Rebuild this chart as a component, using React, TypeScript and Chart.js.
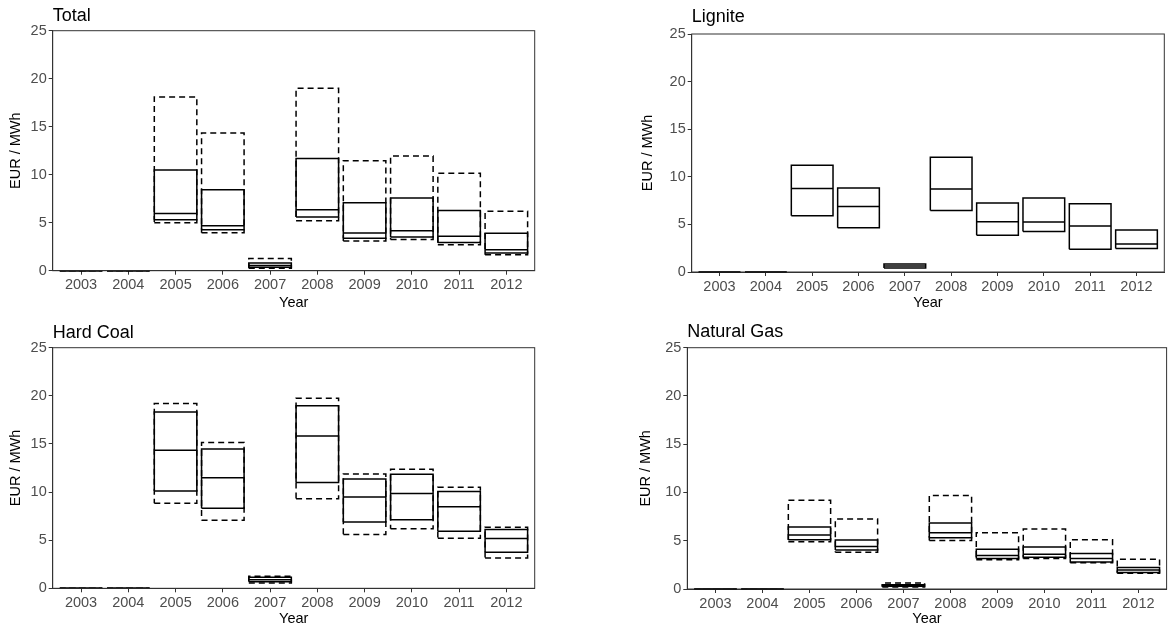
import React, { useEffect, useRef } from "react";
import { Chart, registerables } from "chart.js";

Chart.register(...registerables);

// ---------- data ----------
const years = [2003, 2004, 2005, 2006, 2007, 2008, 2009, 2010, 2011, 2012];
const yTicks = [0, 5, 10, 15, 20, 25];

const totalMin = [0, 0, 5.0, 3.96, 0.25, 5.2, 3.09, 3.26, 2.7, 1.67];
const totalLow = [0, 0, 5.3, 4.27, 0.35, 5.6, 3.37, 3.5, 2.95, 1.84];
const totalMed = [0, 0, 5.95, 4.69, 0.55, 6.35, 3.92, 4.17, 3.58, 2.19];
const totalHigh = [0, 0, 10.5, 8.44, 0.8, 11.7, 7.08, 7.57, 6.28, 3.89];
const totalMax = [0, 0, 18.1, 14.34, 1.28, 19.0, 11.46, 11.94, 10.14, 6.18];

const ligniteLow = [0, 0, 5.91, 4.64, 0.42, 6.47, 3.87, 4.25, 2.39, 2.46];
const ligniteMed = [0, 0, 8.76, 6.89, 0.63, 8.72, 5.27, 5.24, 4.82, 2.95];
const ligniteHigh = [0, 0, 11.22, 8.83, 0.84, 12.06, 7.24, 7.77, 7.17, 4.4];

const coalMin = [0, 0, 8.85, 7.08, 0.56, 9.3, 5.59, 6.18, 5.21, 3.16];
const coalLow = [0, 0, 10.1, 8.33, 0.69, 11.0, 6.88, 7.12, 5.94, 3.75];
const coalMed = [0, 0, 14.34, 11.49, 0.9, 15.83, 9.48, 9.86, 8.47, 5.17];
const coalHigh = [0, 0, 18.33, 14.48, 1.15, 18.96, 11.35, 11.84, 10.07, 6.11];
const coalMax = [0, 0, 19.2, 15.14, 1.25, 19.76, 11.88, 12.36, 10.49, 6.35];

const gasMin = [0, 0, 4.9, 3.82, 0.2, 5.03, 3.02, 3.16, 2.71, 1.63];
const gasLow = [0, 0, 5.1, 4.03, 0.28, 5.31, 3.16, 3.3, 2.81, 1.7];
const gasMed = [0, 0, 5.59, 4.41, 0.35, 5.83, 3.47, 3.61, 3.16, 1.98];
const gasHigh = [0, 0, 6.42, 5.07, 0.45, 6.84, 4.13, 4.34, 3.68, 2.22];
const gasMax = [0, 0, 9.2, 7.26, 0.63, 9.69, 5.83, 6.22, 5.1, 3.09];

const panelTitles = ["Total", "Lignite", "Hard Coal", "Natural Gas"];
const xTitle = "Year";
const yTitle = "EUR / MWh";

type Series = { min: number[] | null; low: number[]; med: number[]; high: number[]; max: number[] | null };
const series: Series[] = [
  { min: totalMin, low: totalLow, med: totalMed, high: totalHigh, max: totalMax },
  { min: null, low: ligniteLow, med: ligniteMed, high: ligniteHigh, max: null },
  { min: coalMin, low: coalLow, med: coalMed, high: coalHigh, max: coalMax },
  { min: gasMin, low: gasLow, med: gasMed, high: gasHigh, max: gasMax },
];

// ---------- layout / style ----------
const PW = 584;
const PH = 314;
const HALF = 0.45;
const FONT = "'Liberation Sans', Arial, Helvetica, sans-serif";
const layouts = [
  { left: 0, top: 0, L: 52.7, R: 534.7, T: 30.7, B: 270.7, titleY: 20.7, yTitleX: 16, xTitleY: 303 },
  { left: 584, top: 0, L: 107.7, R: 580.3, T: 34, B: 272, titleY: 21.7, yTitleX: 64, xTitleY: 303 },
  { left: 0, top: 314, L: 52.7, R: 534.7, T: 33.7, B: 274.3, titleY: 24.3, yTitleX: 16, xTitleY: 305 },
  { left: 584, top: 314, L: 103.3, R: 582.6, T: 33.7, B: 275, titleY: 23.3, yTitleX: 62, xTitleY: 305 },
];

function boxPath(lo: number[], hi: number[]) {
  const pts: { x: number; y: number | null }[] = [];
  years.forEach((yr, i) => {
    pts.push(
      { x: yr - HALF, y: lo[i] },
      { x: yr + HALF, y: lo[i] },
      { x: yr + HALF, y: hi[i] },
      { x: yr - HALF, y: hi[i] },
      { x: yr - HALF, y: lo[i] },
      { x: yr, y: null }
    );
  });
  return pts;
}

function medPath(med: number[]) {
  const pts: { x: number; y: number | null }[] = [];
  years.forEach((yr, i) => {
    pts.push({ x: yr - HALF, y: med[i] }, { x: yr + HALF, y: med[i] }, { x: yr, y: null });
  });
  return pts;
}

const framePlugin = {
  id: "frame",
  afterDraw(chart: any, _args: any, opts: any) {
    const { ctx, chartArea } = chart;
    ctx.save();
    ctx.strokeStyle = "#333333";
    ctx.lineWidth = 1;
    ctx.strokeRect(chartArea.left, chartArea.top, chartArea.right - chartArea.left, chartArea.bottom - chartArea.top);
    ctx.fillStyle = "#000000";
    ctx.font = `18px ${FONT}`;
    ctx.textAlign = "left";
    ctx.textBaseline = "alphabetic";
    ctx.fillText(opts.text, chartArea.left, opts.y);
    ctx.restore();
  },
};

function Panel({ idx }: { idx: number }) {
  const ref = useRef<HTMLCanvasElement>(null);
  useEffect(() => {
    const s = series[idx];
    const lay = layouts[idx];
    const lineStyle = { borderColor: "#000000", borderWidth: 1.5, pointRadius: 0, fill: false, tension: 0, spanGaps: false, clip: false as any };
    const datasets: any[] = [];
    if (s.min && s.max) {
      datasets.push({ ...lineStyle, data: boxPath(s.min, s.max), borderDash: [6, 4] });
    }
    datasets.push({ ...lineStyle, data: boxPath(s.low, s.high) });
    datasets.push({ ...lineStyle, data: medPath(s.med) });

    const xh = PH - lay.B;
    const chart = new Chart(ref.current!, {
      type: "line",
      data: { datasets },
      plugins: [framePlugin],
      options: {
        animation: false,
        responsive: false,
        events: [],
        layout: { padding: { left: 0, top: lay.T, right: PW - lay.R, bottom: 0 } },
        plugins: {
          legend: { display: false },
          tooltip: { enabled: false },
          frame: { text: panelTitles[idx], y: lay.titleY },
        } as any,
        scales: {
          x: {
            type: "linear",
            min: 2002.4,
            max: 2012.6,
            afterFit: (sc: any) => { sc.height = xh; },
            afterBuildTicks: (sc: any) => { sc.ticks = years.map((v) => ({ value: v })); },
            grid: { display: true, drawOnChartArea: false, drawTicks: true, tickLength: 4, color: "#333333" },
            border: { display: true, color: "#333333", width: 1 },
            ticks: { color: "#4D4D4D", font: { size: 14.5, family: FONT }, padding: 2, maxRotation: 0, autoSkip: false, callback: (v: any) => String(v) },
            title: { display: true, text: xTitle, color: "#000000", font: { size: 14.5, family: FONT }, padding: { top: 0, bottom: PH - lay.xTitleY - 8.7 } },
          },
          y: {
            type: "linear",
            min: 0,
            max: 25,
            afterFit: (sc: any) => { sc.width = lay.L; },
            afterBuildTicks: (sc: any) => { sc.ticks = yTicks.map((v) => ({ value: v })); },
            grid: { display: true, drawOnChartArea: false, drawTicks: true, tickLength: 4, color: "#333333" },
            border: { display: true, color: "#333333", width: 1 },
            ticks: { color: "#4D4D4D", font: { size: 14.5, family: FONT }, padding: 2, callback: (v: any) => String(v) },
            title: { display: true, text: yTitle, color: "#000000", font: { size: 14.5, family: FONT }, padding: { top: lay.yTitleX - 8.7, bottom: 0 } },
          },
        },
      } as any,
    });
    return () => chart.destroy();
  }, [idx]);
  const lay = layouts[idx];
  return (
    <canvas
      ref={ref}
      width={PW}
      height={PH}
      style={{ position: "absolute", left: lay.left, top: lay.top, width: PW, height: PH, display: "block" }}
    />
  );
}

export default function App() {
  return (
    <div style={{ position: "absolute", left: 0, top: 0, width: 1168, height: 628, background: "#ffffff", overflow: "hidden" }}>
      {panelTitles.map((_, i) => (
        <Panel key={i} idx={i} />
      ))}
    </div>
  );
}
